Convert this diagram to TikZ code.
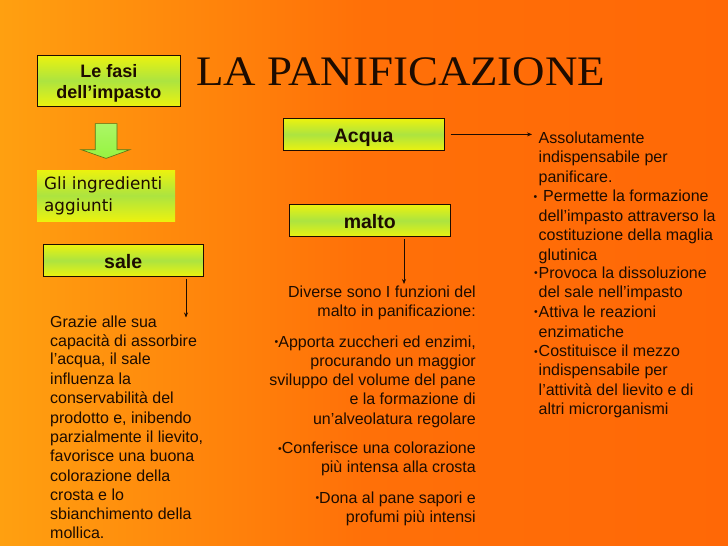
\documentclass[tikz,border=0pt]{standalone}
\usepackage{fontspec}
\setmainfont{Liberation Sans}
\newfontfamily\titlefont{Liberation Serif}
\newfontfamily\comicfont{DejaVu Sans}
\usetikzlibrary{arrows.meta}
\definecolor{bgL}{RGB}{255,160,16}
\definecolor{bgM}{RGB}{255,112,8}
\definecolor{bgR}{RGB}{255,104,6}
\definecolor{boxY}{RGB}{236,242,14}
\definecolor{boxG}{RGB}{172,228,64}
\definecolor{ink}{RGB}{30,12,0}
\definecolor{arrG}{RGB}{150,244,64}
\definecolor{arrD}{RGB}{90,110,20}
\newcommand{\bul}{\raisebox{1.2pt}{\fontsize{10.5}{10}\selectfont\textbullet}}
\begin{document}
\begin{tikzpicture}[x=1pt,y=-1pt,
  boxlbl/.style={draw=ink, line width=0.9pt, top color=boxY, bottom color=boxY,
    middle color=boxG, inner sep=0pt, text=ink, text height=15.5pt, text depth=0pt,
    font=\fontsize{19.5}{21}\selectfont\bfseries},
  body/.style={inner sep=0pt, text=ink, font=\fontsize{16}{19}\selectfont},
  conn/.style={draw=ink, line width=0.7pt, -{Stealth[length=5pt,width=4pt]}}]
% background
\shade[left color=bgL, right color=bgR, middle color=bgM] (0,0) rectangle (728,546);
\useasboundingbox (0,0) rectangle (728,546);
% title
\node[anchor=base west, inner sep=0pt, text=ink, xscale=1.07,
  font=\titlefont\fontsize{42}{42}\selectfont] (title) at (196,85) {LA PANIFICAZIONE};
% boxes
\node[draw=ink, line width=0.9pt, top color=boxY, bottom color=boxY, middle color=boxG,
  inner sep=0pt, minimum width=143.5pt, minimum height=51pt] (fasi) at (108.8,80.6) {};
\node[inner sep=0pt, align=center, text=ink, font=\fontsize{18}{21}\selectfont\bfseries,
  yshift=-2.5pt] (fasitxt) at (fasi.center) {Le fasi\\dell’impasto};
\node[inner sep=0pt, minimum width=138pt, minimum height=51pt,
  top color=boxY, bottom color=boxY, middle color=boxG] (ingr) at (106,195.5) {};
\node[anchor=west, inner sep=0pt, align=left, text=ink,
  font=\comicfont\fontsize{16.8}{22}\selectfont] (ingrtxt) at (44,196) {Gli ingredienti\\aggiunti};
\node[boxlbl, minimum width=160pt, minimum height=31.5pt] (sale) at (123.2,260.4) {sale};
\node[boxlbl, minimum width=161pt, minimum height=32pt] (acqua) at (363.7,134.4) {Acqua};
\node[boxlbl, minimum width=161pt, minimum height=32.4pt] (malto) at (369.8,220.6) {malto};
% green block arrow
\draw[draw=arrD, line width=0.6pt, top color=arrG!80!white, bottom color=arrG]
  (95.2,123.6) -- (117,123.6) -- (117,149.7) -- (130,149.7) -- (106,158.4)
  -- (81.2,149.7) -- (95.2,149.7) -- cycle;
% connectors
\coordinate (acquaEnd) at (532,134.4);
\coordinate (maltoEnd) at (404,284);
\coordinate (saleEnd) at (186,317.5);
\draw[conn, shorten <=6pt] (acqua) -- (acquaEnd);
\draw[conn, shorten <=1.5pt] (malto.south -| maltoEnd) -- (maltoEnd);
\draw[conn, shorten <=2pt] (sale.south -| saleEnd) -- (saleEnd);
% right column
\foreach \y/\t [count=\i] in {
  143/{Assolutamente},
  162.7/{indispensabile per},
  182/{panificare.},
  201.7/{\llap{\bul\hspace{1.5pt}}\hspace{4.5pt}Permette la formazione},
  221/{dell’impasto attraverso la},
  240/{costituzione della maglia},
  260/{glutinica},
  278/{\llap{\bul\hspace{1pt}}Provoca la dissoluzione},
  297.5/{del sale nell’impasto},
  317/{\llap{\bul\hspace{1pt}}Attiva le reazioni},
  337/{enzimatiche},
  356.7/{\llap{\bul\hspace{1pt}}Costituisce il mezzo},
  375.8/{indispensabile per},
  395/{l’attività del lievito e di},
  414/{altri microrganismi}}
  \node[body, anchor=base west] (r\i) at (538.5,\y) {\t};
% middle column
\foreach \y/\t [count=\i] in {
  297.5/{Diverse sono I funzioni del},
  316.6/{malto in panificazione:},
  347/{\bul Apporta zuccheri ed enzimi,},
  366/{procurando un maggior},
  385.6/{sviluppo del volume del pane},
  404.7/{e la formazione di},
  424/{un’alveolatura regolare},
  453.5/{\bul Conferisce una colorazione},
  472.6/{più intensa alla crosta},
  503/{\bul Dona al pane sapori e},
  522/{profumi più intensi}}
  \node[body, anchor=base east] (m\i) at (476,\y) {\t};
% left column
\foreach \y/\t [count=\i] in {
  327/{Grazie alle sua},
  346/{capacità di assorbire},
  364.7/{l’acqua, il sale},
  384.5/{influenza la},
  403.7/{conservabilità del},
  423/{prodotto e, inibendo},
  442/{parzialmente il lievito,},
  461/{favorisce una buona},
  481/{colorazione della},
  500.5/{crosta e lo},
  519.6/{sbianchimento della},
  538.8/{mollica.}}
  \node[body, anchor=base west] (l\i) at (50,\y) {\t};
\end{tikzpicture}
\end{document}
